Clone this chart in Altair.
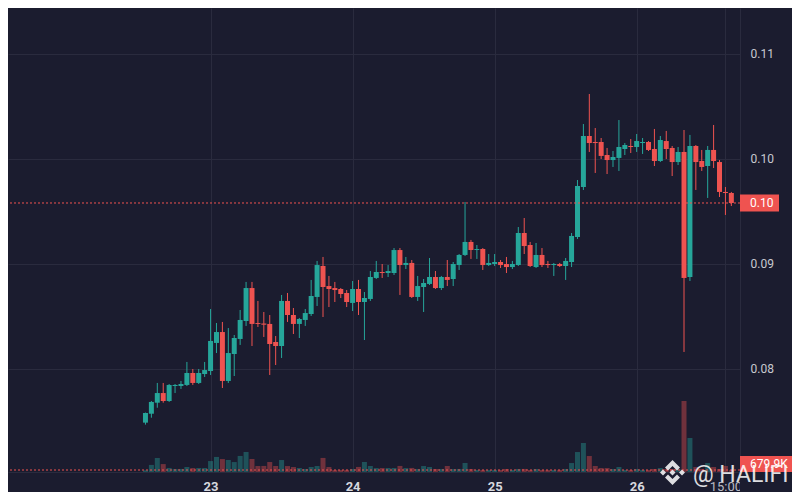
import altair as alt
import pandas as pd

# ---- data (hourly candles, 22 13:00 -> 26 16:00 UTC) ----
open_ = [0.07489, 0.07574, 0.07679, 0.07771, 0.07695, 0.07838, 0.07838, 0.07848, 0.07962, 0.07867,
         0.07952, 0.07981, 0.08248, 0.08352, 0.07886, 0.08143, 0.08286, 0.08457, 0.08771, 0.08438,
         0.08433, 0.08429, 0.08257, 0.08219, 0.08648, 0.08514, 0.08429, 0.08467, 0.08524, 0.08686,
         0.08981, 0.08790, 0.08771, 0.08762, 0.08724, 0.08629, 0.08762, 0.08638, 0.08667, 0.08867,
         0.08924, 0.08914, 0.08914, 0.09133, 0.08990, 0.09010, 0.08686, 0.08781, 0.08810, 0.08876,
         0.08771, 0.08876, 0.08857, 0.08990, 0.09086, 0.09210, 0.09133, 0.09143, 0.08990, 0.09000,
         0.09019, 0.09000, 0.08971, 0.08990, 0.09295, 0.09181, 0.08971, 0.09086, 0.09000, 0.08990,
         0.09000, 0.08981, 0.09019, 0.09257, 0.09733, 0.10219, 0.10162, 0.10162, 0.10038, 0.09990,
         0.10010, 0.10095, 0.10124, 0.10114, 0.10152, 0.10162, 0.10095, 0.09981, 0.10171, 0.10105,
         0.09971, 0.10067, 0.08876, 0.10124, 0.09981, 0.09933, 0.10086, 0.09971, 0.09686, 0.09676]
high = [0.07585, 0.07695, 0.07867, 0.07867, 0.07857, 0.07857, 0.07886, 0.08067, 0.08000, 0.08000,
        0.08067, 0.08571, 0.08438, 0.08448, 0.08390, 0.08324, 0.08562, 0.08829, 0.08829, 0.08648,
        0.08543, 0.08514, 0.08314, 0.08705, 0.08724, 0.08581, 0.08486, 0.08571, 0.08848, 0.09029,
        0.09067, 0.08886, 0.08829, 0.08771, 0.08752, 0.08838, 0.08848, 0.08733, 0.08933, 0.09029,
        0.09000, 0.08990, 0.09152, 0.09152, 0.09067, 0.09038, 0.08886, 0.08857, 0.09057, 0.08933,
        0.08886, 0.09038, 0.09019, 0.09095, 0.09590, 0.09229, 0.09181, 0.09152, 0.09095, 0.09095,
        0.09038, 0.09067, 0.09029, 0.09352, 0.09438, 0.09210, 0.09200, 0.09152, 0.09029, 0.09010,
        0.09010, 0.09057, 0.09295, 0.09800, 0.10333, 0.10619, 0.10295, 0.10200, 0.10105, 0.10076,
        0.10371, 0.10152, 0.10190, 0.10238, 0.10200, 0.10171, 0.10286, 0.10219, 0.10267, 0.10124,
        0.10114, 0.10276, 0.10229, 0.10133, 0.10086, 0.10124, 0.10324, 0.09990, 0.09733, 0.09686]
low = [0.07470, 0.07536, 0.07631, 0.07679, 0.07686, 0.07771, 0.07810, 0.07838, 0.07848, 0.07857,
       0.07924, 0.07943, 0.08152, 0.07819, 0.07867, 0.07933, 0.08229, 0.08410, 0.08219, 0.08400,
       0.08305, 0.07943, 0.08038, 0.08105, 0.08448, 0.08333, 0.08295, 0.08410, 0.08505, 0.08600,
       0.08495, 0.08590, 0.08638, 0.08676, 0.08590, 0.08552, 0.08514, 0.08276, 0.08648, 0.08857,
       0.08867, 0.08876, 0.08895, 0.08705, 0.08952, 0.08676, 0.08648, 0.08543, 0.08800, 0.08762,
       0.08752, 0.08790, 0.08790, 0.08943, 0.09076, 0.09048, 0.09048, 0.08943, 0.08981, 0.08981,
       0.08962, 0.08914, 0.08952, 0.08981, 0.09095, 0.08971, 0.08962, 0.08971, 0.08962, 0.08886,
       0.08971, 0.08848, 0.08971, 0.09238, 0.09705, 0.10067, 0.09867, 0.10000, 0.09857, 0.09924,
       0.09886, 0.10038, 0.10057, 0.10067, 0.10048, 0.10076, 0.09933, 0.09971, 0.10000, 0.09838,
       0.09943, 0.08162, 0.08838, 0.09705, 0.09886, 0.09629, 0.09914, 0.09638, 0.09467, 0.09552]
close = [0.07581, 0.07686, 0.07771, 0.07695, 0.07848, 0.07848, 0.07857, 0.07962, 0.07867, 0.07962,
         0.07990, 0.08267, 0.08352, 0.07886, 0.08152, 0.08295, 0.08467, 0.08771, 0.08429, 0.08429,
         0.08422, 0.08238, 0.08219, 0.08648, 0.08514, 0.08429, 0.08476, 0.08533, 0.08695, 0.08990,
         0.08781, 0.08762, 0.08752, 0.08714, 0.08638, 0.08762, 0.08638, 0.08676, 0.08876, 0.08924,
         0.08914, 0.08933, 0.09133, 0.08990, 0.09010, 0.08686, 0.08790, 0.08819, 0.08876, 0.08771,
         0.08876, 0.08848, 0.09000, 0.09086, 0.09210, 0.09133, 0.09143, 0.08990, 0.09010, 0.09019,
         0.08990, 0.08971, 0.09000, 0.09295, 0.09171, 0.08981, 0.09086, 0.08990, 0.08990, 0.09000,
         0.08981, 0.09029, 0.09267, 0.09743, 0.10219, 0.10152, 0.10152, 0.10029, 0.09990, 0.10019,
         0.10114, 0.10133, 0.10114, 0.10171, 0.10162, 0.10086, 0.09981, 0.10181, 0.10095, 0.09971,
         0.10067, 0.08867, 0.10124, 0.09971, 0.09924, 0.10086, 0.09981, 0.09686, 0.09676, 0.09581]
# volume in thousands
volume = [578, 2410, 4760, 2690, 1380, 1010, 1040, 1700, 1350, 1370,
          1360, 3720, 5120, 4400, 4090, 3380, 5460, 6810, 4430, 2030,
          2060, 3390, 2050, 4070, 2020, 1690, 1370, 1030, 1710, 2030,
          4780, 1690, 690, 670, 700, 1010, 1720, 3410, 2050, 1340,
          1350, 1370, 1360, 2060, 1340, 1380, 1010, 2030, 1700, 1020,
          1030, 2050, 1010, 1040, 3070, 1020, 690, 680, 670, 700,
          690, 1030, 680, 1010, 1040, 690, 1020, 680, 670, 690,
          700, 1030, 3050, 6790, 9870, 5430, 2050, 1370, 1350, 1020,
          1710, 690, 680, 1030, 700, 690, 1020, 1370, 1010, 1030,
          1020, 24140, 11560, 1690, 1010, 3060, 1700, 1030, 2040, 679.9]

start = pd.Timestamp("2024-01-22 13:00")
times = [(start + pd.Timedelta(hours=i)).strftime("%Y-%m-%dT%H:%M:%SZ") for i in range(len(close))]

df = pd.DataFrame({"t": times, "open": open_, "high": high, "low": low,
                   "close": close, "vol": volume})
last = pd.DataFrame({
    "price": [close[-1]], "vol": [volume[-1]],
    "ptxt": [f"{close[-1]:.2f}"], "vtxt": [f"{volume[-1]:.1f}K"],
})

BG = "#1b1c2f"
GRID = "#2a2b3e"
UP = "#26a69a"
DOWN = "#ef5350"
LAST_COLOR = UP if close[-1] >= open_[-1] else DOWN
FONT = "Roboto"

xscale = alt.Scale(type="utc",
                   domain=[alt.DateTime(year=2024, month=1, date=21, hours=14, minutes=37, utc=True),
                           alt.DateTime(year=2024, month=1, date=26, hours=16, minutes=37, utc=True)])
xax = alt.Axis(
    values=[alt.DateTime(year=2024, month=1, date=23, utc=True),
            alt.DateTime(year=2024, month=1, date=24, utc=True),
            alt.DateTime(year=2024, month=1, date=25, utc=True),
            alt.DateTime(year=2024, month=1, date=26, utc=True),
            alt.DateTime(year=2024, month=1, date=26, hours=15, utc=True)],
    labelExpr="utchours(datum.value) == 0 ? utcFormat(datum.value, '%d') : utcFormat(datum.value, '%H:%M')",
    labelFontWeight={"condition": {"test": "utchours(datum.value) == 0", "value": "bold"}, "value": "normal"},
    labelColor={"condition": {"test": "utchours(datum.value) == 0", "value": "#d6d7de"}, "value": "#b8b9c2"},
    grid=True, gridColor=GRID, gridWidth=1, ticks=False, domain=True, domainColor=GRID,
    labelFontSize=13, labelFont=FONT, labelPadding=8, labelFlush=False, labelOverlap=False, title=None,
)
yscale = alt.Scale(domain=[0.07019, 0.11438], nice=False, zero=False)
yax = alt.Axis(orient="right", values=[0.08, 0.09, 0.10, 0.11], format=".2f",
               grid=True, gridColor=GRID, gridWidth=1, ticks=False, domain=True, domainColor=GRID,
               labelColor="#c8c9d0", labelFontSize=12, labelFont=FONT, labelPadding=10,
               labelFlush=False, labelOverlap=False, title=None)
vscale = alt.Scale(domain=[0, 157760], nice=False, zero=True)

cond = alt.condition("datum.close >= datum.open", alt.value(UP), alt.value(DOWN))

# volume layer
vol_bars = alt.Chart(df).mark_bar(size=5, opacity=0.4).encode(
    x=alt.X("t:T", scale=xscale, axis=xax),
    y=alt.Y("vol:Q", scale=vscale, axis=None),
    color=cond,
)
vol_line = alt.Chart(last).mark_rule(color=LAST_COLOR, strokeDash=[2, 2], strokeWidth=1).encode(
    y=alt.Y("vol:Q", scale=vscale, axis=None))
vol_box = alt.Chart(last).mark_rule(color=LAST_COLOR, strokeWidth=16, strokeCap="butt", yOffset=-6).encode(
    x=alt.value(732), x2=alt.value(784), y=alt.Y("vol:Q", scale=vscale, axis=None))
vol_txt = alt.Chart(last).mark_text(align="left", baseline="middle", color="white",
                                    fontSize=12, font=FONT, yOffset=-6).encode(
    x=alt.value(742), y=alt.Y("vol:Q", scale=vscale, axis=None), text="vtxt:N")
vol_layer = alt.layer(vol_bars, vol_line, vol_box, vol_txt)

# price layer
pbase = alt.Chart(df).encode(x=alt.X("t:T", scale=xscale, axis=xax))
wicks = pbase.mark_rule(strokeWidth=1).encode(
    y=alt.Y("low:Q", scale=yscale, axis=yax), y2="high:Q", color=cond)
bodies = pbase.mark_bar(size=5).encode(
    y=alt.Y("open:Q", scale=yscale, axis=yax), y2="close:Q", color=cond)
price_line = alt.Chart(last).mark_rule(color=LAST_COLOR, strokeDash=[2, 2], strokeWidth=1).encode(
    y=alt.Y("price:Q", scale=yscale, axis=yax))
price_box = alt.Chart(last).mark_rule(color=LAST_COLOR, strokeWidth=17, strokeCap="butt").encode(
    x=alt.value(732), x2=alt.value(771), y=alt.Y("price:Q", scale=yscale, axis=yax))
price_txt = alt.Chart(last).mark_text(align="left", baseline="middle", color="white",
                                      fontSize=12, font=FONT).encode(
    x=alt.value(742), y=alt.Y("price:Q", scale=yscale, axis=yax), text="ptxt:N")
price_layer = alt.layer(wicks, bodies, price_line, price_box, price_txt)

# mask the time-axis part under the price scale, then watermark
mask = alt.Chart(last).mark_rule(color=BG, strokeWidth=20, strokeCap="butt").encode(
    x=alt.value(732), x2=alt.value(784), y=alt.value(474))
logo_path = ("M0,-1 L0.6,-0.4 L0.36,-0.16 L0,-0.52 L-0.36,-0.16 L-0.6,-0.4 Z "
             "M0,1 L0.6,0.4 L0.36,0.16 L0,0.52 L-0.36,0.16 L-0.6,0.4 Z "
             "M0,-0.24 L0.24,0 L0,0.24 L-0.24,0 Z "
             "M-0.76,-0.24 L-0.52,0 L-0.76,0.24 L-1,0 Z "
             "M0.76,-0.24 L1,0 L0.76,0.24 L0.52,0 Z")
logo = alt.Chart(last).mark_point(shape=logo_path, filled=True, size=625, color="white",
                                  opacity=0.85, strokeWidth=0).encode(
    x=alt.value(664.5), y=alt.value(464.5))
wm_txt = alt.Chart(last).mark_text(text="@ HALIFI", align="left", baseline="alphabetic",
                                   fontSize=23, font=FONT, color="white", opacity=0.85).encode(
    x=alt.value(685), y=alt.value(474))

chart = alt.layer(vol_layer, price_layer, mask, logo, wm_txt).resolve_scale(y="independent").properties(
    width=732, height=464,
    autosize=alt.AutoSizeParams(type="none"),
    padding={"left": 0, "top": 0, "right": 52, "bottom": 20},
    background=BG,
).configure_view(stroke=None)

chart.save("out.html", embed_options={"renderer": "svg", "actions": False})
